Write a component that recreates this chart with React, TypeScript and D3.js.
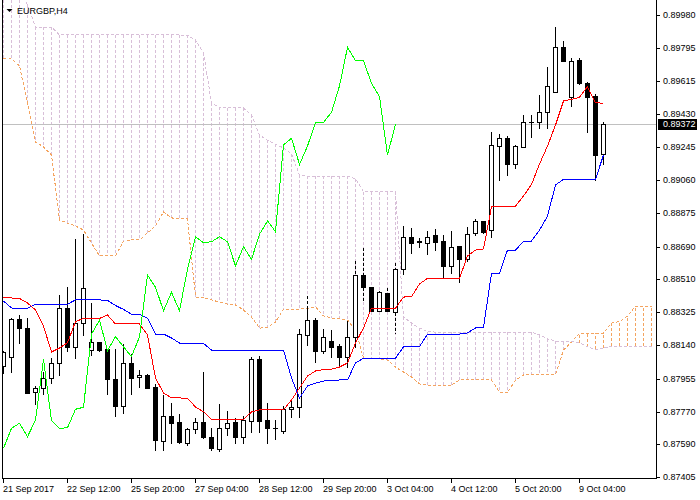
import React from "react";
import * as d3 from "d3";

const symbolTitle = "EURGBP,H4";
const currentPrice = 0.89372;

const opens = [0.88025,0.88077,0.88287,0.88239,0.87878,0.87901,0.87956,0.8804,0.88346,0.88132,0.88263,0.88114,0.88157,0.88118,0.87953,0.87804,0.8804,0.87962,0.87975,0.8791,0.87609,0.87746,0.87715,0.87598,0.87672,0.87715,0.87628,0.87563,0.87678,0.87715,0.87631,0.8772,0.88062,0.87724,0.87678,0.87665,0.87784,0.87795,0.88196,0.88281,0.8811,0.88164,0.88136,0.88077,0.88188,0.88532,0.88463,0.88331,0.8843,0.88327,0.88564,0.88745,0.8872,0.88708,0.88755,0.88721,0.88582,0.88693,0.88619,0.88764,0.88833,0.88782,0.89252,0.89293,0.89148,0.89246,0.89382,0.89382,0.89438,0.89553,0.898,0.89522,0.89729,0.89603,0.89529,0.89204];
const highs = [0.88114,0.883,0.88317,0.88296,0.87919,0.87997,0.88077,0.88426,0.88471,0.88736,0.88764,0.88383,0.8816,0.88124,0.88124,0.88151,0.88096,0.88008,0.87984,0.87929,0.87869,0.87826,0.87765,0.87687,0.87743,0.87997,0.87687,0.8782,0.8778,0.87743,0.87752,0.88081,0.88086,0.87826,0.87728,0.87808,0.87839,0.88235,0.8842,0.883,0.88235,0.88229,0.88151,0.88281,0.88615,0.88689,0.88471,0.88448,0.88467,0.88606,0.8881,0.88801,0.88745,0.88782,0.88792,0.8876,0.88782,0.88693,0.88805,0.88848,0.88838,0.89334,0.89321,0.89312,0.8926,0.89429,0.8943,0.8954,0.89696,0.89919,0.89841,0.89744,0.89744,0.89612,0.89547,0.89391];
const lows = [0.87986,0.87993,0.88151,0.87872,0.87812,0.87869,0.87932,0.87975,0.8811,0.88068,0.88198,0.88086,0.8811,0.87867,0.87748,0.87765,0.87867,0.8791,0.87901,0.87557,0.87557,0.87598,0.87598,0.87585,0.8765,0.87622,0.87557,0.87554,0.87641,0.87598,0.87598,0.87659,0.87659,0.87594,0.87617,0.8765,0.87743,0.87743,0.88142,0.88049,0.88096,0.88077,0.88025,0.88021,0.88132,0.88393,0.88333,0.88331,0.88324,0.88207,0.88537,0.88653,0.88689,0.88649,0.88671,0.88513,0.88541,0.88494,0.88611,0.88755,0.88767,0.88745,0.89061,0.89089,0.89126,0.89243,0.89302,0.89349,0.89349,0.89553,0.89725,0.89473,0.89596,0.8933,0.89061,0.8915];
const closes = [0.88103,0.88287,0.88236,0.87876,0.87901,0.87956,0.8804,0.88346,0.88132,0.88263,0.88458,0.88157,0.88114,0.87954,0.87804,0.8804,0.8796,0.87975,0.87904,0.87613,0.87746,0.87709,0.87603,0.87672,0.87715,0.87628,0.87567,0.87678,0.87706,0.87631,0.87724,0.88062,0.8772,0.87678,0.87681,0.87784,0.87795,0.88202,0.88281,0.8811,0.88188,0.88132,0.88077,0.88188,0.88532,0.88463,0.88333,0.88435,0.88333,0.88564,0.88745,0.88712,0.88717,0.88745,0.88717,0.88582,0.88689,0.88619,0.88759,0.88833,0.88773,0.89256,0.89293,0.89148,0.8925,0.89382,0.89382,0.89438,0.89585,0.898,0.89725,0.89725,0.896,0.89525,0.892,0.89372];

const tenkan = [0.88407,0.88404,0.88401,0.88376,0.88337,0.88247,0.88103,0.88125,0.88155,0.88272,0.8829,0.8829,0.8829,0.88309,0.88259,0.88259,0.88259,0.88259,0.88198,0.87958,0.87875,0.87847,0.87847,0.87845,0.87797,0.8777,0.87728,0.87728,0.87728,0.87728,0.87728,0.87769,0.8778,0.8778,0.8778,0.8778,0.87836,0.87902,0.87969,0.87997,0.88005,0.88007,0.88019,0.88042,0.88153,0.88237,0.88347,0.88347,0.88347,0.88347,0.88409,0.88411,0.88482,0.88513,0.88513,0.88513,0.88513,0.88513,0.88638,0.88671,0.88677,0.88911,0.88913,0.88913,0.88916,0.88972,0.89036,0.8915,0.8925,0.89367,0.89501,0.8951,0.89522,0.89581,0.89492,0.89488];
const kijun = [0.88387,0.88348,0.88346,0.88346,0.88369,0.88369,0.88369,0.88369,0.88369,0.88393,0.88393,0.88393,0.88393,0.8839,0.88362,0.8834,0.88313,0.88313,0.88292,0.88203,0.88203,0.88181,0.88153,0.88151,0.88151,0.88151,0.88114,0.88114,0.88114,0.88114,0.88114,0.88114,0.88114,0.88114,0.88114,0.88114,0.87958,0.87847,0.87914,0.8793,0.87941,0.87944,0.87947,0.87947,0.88042,0.88068,0.88068,0.88068,0.88068,0.88068,0.88132,0.88132,0.88132,0.88203,0.88203,0.88203,0.88203,0.88203,0.88209,0.88237,0.8824,0.88541,0.88541,0.88671,0.88671,0.88718,0.88721,0.88782,0.8886,0.89033,0.89065,0.89065,0.89065,0.89065,0.89065,0.892];
const senkouA = [0.89738,0.89735,0.89696,0.8949,0.89273,0.89245,0.892,0.88838,0.88821,0.88805,0.88782,0.8871,0.88638,0.88638,0.88638,0.88721,0.88727,0.88727,0.88766,0.88805,0.88883,0.8885,0.88844,0.88844,0.88409,0.88404,0.88393,0.88381,0.8837,0.88365,0.88337,0.88298,0.88236,0.88239,0.8827,0.8834,0.8834,0.88342,0.88346,0.88354,0.88304,0.88292,0.88287,0.88281,0.88225,0.8807,0.88067,0.88064,0.88058,0.88019,0.87991,0.87964,0.87925,0.87919,0.87919,0.87919,0.87919,0.87947,0.87947,0.87947,0.87947,0.87947,0.8788,0.87876,0.87947,0.87975,0.87978,0.87978,0.87978,0.87978,0.88114,0.88159,0.88207,0.88207,0.88207,0.88207,0.88264,0.88272,0.88303,0.88359,0.88359,0.88359];
const senkouB = [0.9012,0.9012,0.9012,0.90036,0.89913,0.89913,0.89913,0.89869,0.89869,0.89869,0.89869,0.89869,0.89869,0.89869,0.89869,0.89869,0.89869,0.89869,0.89869,0.89869,0.89869,0.89869,0.89869,0.89866,0.89841,0.89768,0.8949,0.89465,0.89462,0.89462,0.89462,0.89423,0.89312,0.89281,0.89261,0.89239,0.89206,0.89089,0.89083,0.89083,0.89083,0.89083,0.89083,0.89083,0.89067,0.88996,0.88996,0.88996,0.88996,0.88996,0.88298,0.88264,0.88236,0.88216,0.88214,0.88214,0.88214,0.88214,0.88214,0.88214,0.88214,0.88214,0.88214,0.88214,0.88214,0.88214,0.88214,0.88198,0.88176,0.88164,0.8816,0.8816,0.88155,0.88131,0.88117,0.88125,0.88135,0.88136,0.88136,0.88136,0.88136,0.88136];

const priceTicks = [0.8998,0.89795,0.89615,0.8943,0.89245,0.8906,0.88875,0.8869,0.8851,0.88325,0.8814,0.87955,0.8777,0.8759,0.87405];
const timeLabels = ["21 Sep 2017","22 Sep 12:00","25 Sep 20:00","27 Sep 04:00","28 Sep 12:00","29 Sep 20:00","3 Oct 04:00","4 Oct 12:00","5 Oct 20:00","9 Oct 04:00"];
const timeLabelBars = [0,8,16,24,32,40,48,56,64,72];
const chikouShift = 26;

const FONT = "'Liberation Sans', Arial, sans-serif";
const SANDY = "#F4A460";
const THISTLE = "#D8BFD8";

export default function App() {
  const left = 2.5, right = 656.5, bottom = 478.5;
  const x = d3.scaleLinear().domain([0, 81]).range([3.5, 651.5]);
  const y = d3.scaleLinear().domain([0.87405, 0.8998]).range([477.3, 15]);
  const py = (v: number) => Math.round(y(v)) + 0.5;

  const lineGen = d3.line<number>().x((_, i) => x(i)).y((d) => y(d));
  const chikou = closes.slice(chikouShift);

  const hatch = senkouA.map((a, i) => {
    const b = senkouB[i];
    return (
      <line key={"h" + i} x1={x(i)} x2={x(i)} y1={y(b)} y2={y(a)}
        stroke={a >= b ? SANDY : THISTLE} strokeWidth={1} strokeDasharray="3,2" />
    );
  });

  const candles = opens.map((o, i) => {
    const c = closes[i];
    const cx = x(i);
    const yh = py(highs[i]);
    const yl = py(lows[i]);
    const yo = py(o);
    const yc = py(c);
    const top = Math.min(yo, yc);
    const bot = Math.max(yo, yc);
    const ya = y(senkouA[i]);
    const yb = y(senkouB[i]);
    const cTop = Math.min(ya, yb);
    const cBot = Math.max(ya, yb);
    const segs: any[] = [];
    if (yh < cTop) segs.push(<line key="s1" x1={cx} x2={cx} y1={yh} y2={Math.min(yl, cTop)} stroke="#000" />);
    const dTop = Math.max(yh, cTop), dBot = Math.min(yl, cBot);
    if (dBot > dTop) segs.push(<line key="s2" x1={cx} x2={cx} y1={dTop} y2={dBot} stroke="#000" strokeDasharray="3,2" />);
    if (yl > cBot) segs.push(<line key="s3" x1={cx} x2={cx} y1={Math.max(yh, cBot)} y2={yl} stroke="#000" />);
    const bull = c >= o;
    return (
      <g key={"c" + i}>
        {segs}
        {bot - top < 1 ? (
          <line x1={cx - 2.5} x2={cx + 2.5} y1={top} y2={top} stroke="#000" />
        ) : (
          <rect x={cx - 2} y={top} width={4} height={bot - top}
            fill={bull ? "#fff" : "#000"} stroke="#000" strokeWidth={1} />
        )}
      </g>
    );
  });

  const curY = py(currentPrice);

  return (
    <svg width={700} height={500} style={{ position: "absolute", left: 0, top: 0, background: "#fff" }}
      fontFamily={FONT} fontSize={9}>
      <defs>
        <clipPath id="plot">
          <rect x={3} y={0} width={653} height={478} />
        </clipPath>
      </defs>
      <rect x={0} y={0} width={700} height={500} fill="#fff" />
      <g clipPath="url(#plot)">
        <g shapeRendering="crispEdges">{hatch}</g>
        <g shapeRendering="crispEdges">
          <path d={lineGen(senkouA) || ""} fill="none" stroke={SANDY} strokeDasharray="3,2" />
          <path d={lineGen(senkouB) || ""} fill="none" stroke={THISTLE} strokeDasharray="3,2" />
          <line x1={left} x2={right} y1={curY} y2={curY} stroke="#C0C0C0" />
        </g>
        <g shapeRendering="crispEdges">{candles}</g>
        <g shapeRendering="crispEdges">
          <path d={lineGen(kijun) || ""} fill="none" stroke="#0000FF" />
          <path d={lineGen(tenkan) || ""} fill="none" stroke="#FF0000" />
          <path d={lineGen(chikou) || ""} fill="none" stroke="#00FF00" />
        </g>
      </g>
      <g shapeRendering="crispEdges" stroke="#000">
        <line x1={left} x2={left} y1={0} y2={bottom} />
        <line x1={right} x2={right} y1={0} y2={bottom} />
        <line x1={left} x2={right} y1={bottom} y2={bottom} />
      </g>
      {priceTicks.map((v) => {
        const ty = py(v);
        return (
          <g key={"p" + v}>
            <line x1={657} x2={660} y1={ty} y2={ty} stroke="#000" shapeRendering="crispEdges" />
            <text x={663} y={ty} dominantBaseline="middle" fill="#000">{v.toFixed(5)}</text>
          </g>
        );
      })}
      <rect x={658} y={curY - 5.5} width={39} height={11} fill="#000" />
      <text x={663} y={curY} dominantBaseline="middle" fill="#fff">{currentPrice.toFixed(5)}</text>
      {timeLabels.map((t, k) => {
        const tx = x(timeLabelBars[k]);
        return (
          <g key={"t" + k}>
            <line x1={tx} x2={tx} y1={479} y2={483} stroke="#000" shapeRendering="crispEdges" />
            <text x={tx - 0.5} y={492} fill="#000">{t}</text>
          </g>
        );
      })}
      <path d="M6.5,9 L12.5,9 L9.5,12 Z" fill="#000" />
      <text x={17} y={14} fill="#000">{symbolTitle}</text>
    </svg>
  );
}
